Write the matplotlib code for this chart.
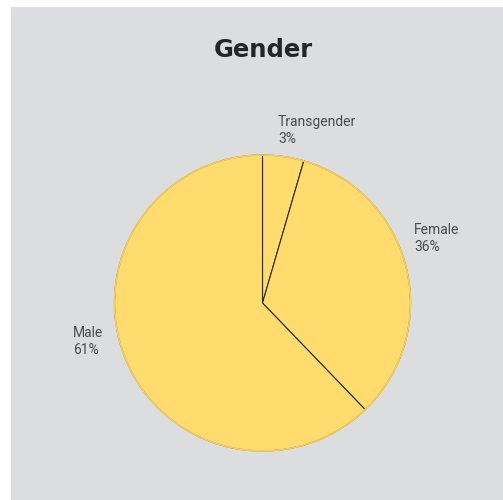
import numpy as np
import matplotlib
matplotlib.use('Agg')
import matplotlib.pyplot as plt
from matplotlib.patches import Rectangle, Circle

# 데이터
categories = ['Transgender', 'Female', 'Male']
shares = [4.5, 33.3, 62.2]          # drawn slice sizes
pct_labels = ['3%', '36%', '61%']   # printed labels

# label top-left positions (pixels, top-left origin)
label_pos = [(278, 115), (414, 223), (73, 326)]

W, H = 503, 500
fig = plt.figure()
fig.set_size_inches(W / 100, H / 100)
fig.patch.set_facecolor('white')

ax = fig.add_axes([0, 0, 1, 1])

# gray panel
ax.add_patch(Rectangle((11, 0), W - 11, H - 7, facecolor='#dcdddf', edgecolor='none', zorder=0))

cx, cy, r = 262.5, H - 303, 148
wedges, _ = ax.pie(shares, startangle=90, counterclock=False, center=(cx, cy), radius=r,
                   colors=['#ffdc6d'] * 3, frame=True,
                   wedgeprops=dict(edgecolor='#2b2b2b', linewidth=0.8))
ax.set_xlim(0, W)
ax.set_ylim(0, H)
ax.set_aspect('auto')
ax.axis('off')
ax.add_patch(Circle((cx, cy), r, fill=False, edgecolor='#f2cd60', linewidth=1.3, zorder=5))

ax.text(263, H - 50, 'Gender', ha='center', va='center', fontsize=17.5, fontweight='bold',
        color='#252525', family='DejaVu Sans')

for cat, pct, (px, py) in zip(categories, pct_labels, label_pos):
    ax.text(px, H - py, cat + '\n' + pct, ha='left', va='top', fontsize=10,
            color='#4a4a4a', family='Roboto',
            linespacing=1.3)

fig.savefig('out.png', dpi=100)
